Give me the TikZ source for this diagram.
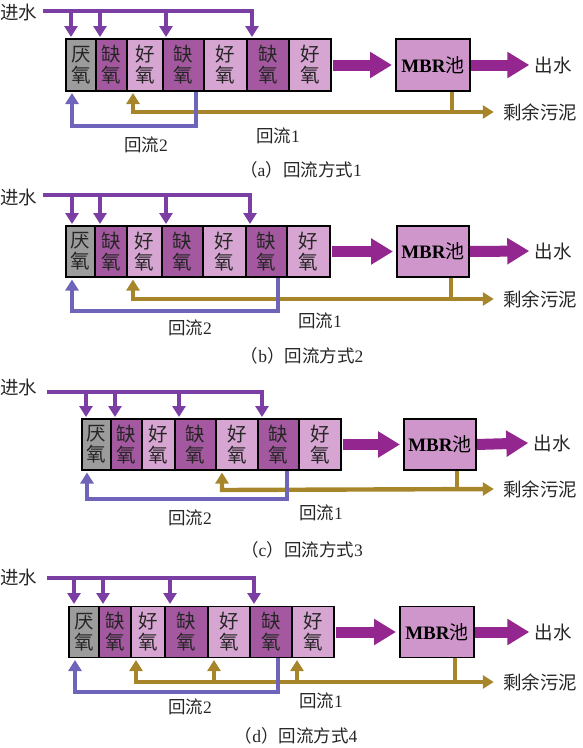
\documentclass[tikz,border=0pt]{standalone}
\usepackage{fontspec}
\setmainfont{Liberation Serif}
\newfontfamily\cjk{Noto Sans CJK SC}
\usetikzlibrary{arrows.meta}
\definecolor{feedc}{HTML}{7B3FA3}
\definecolor{bluec}{HTML}{6E64B9}
\definecolor{goldc}{HTML}{A7852A}
\definecolor{bigc}{HTML}{93278F}
\definecolor{quec}{HTML}{A4589F}
\definecolor{haoc}{HTML}{D6A5D2}
\definecolor{mbrc}{HTML}{CE96CA}
\definecolor{yanc}{HTML}{9C9C9C}
\pgfdeclarelayer{back}
\pgfsetlayers{back,main}
\tikzset{
  box/.style={draw=black, line width=1.8pt, inner sep=0pt, outer sep=0pt, align=center,
    text=black!85, font=\cjk\fontsize{19.5}{21}\selectfont},
  yan/.style={box, fill=yanc},
  que/.style={box, fill=quec},
  hao/.style={box, fill=haoc},
  mbr/.style={draw=black, line width=1.8pt, fill=mbrc, inner sep=0pt, outer sep=0pt,
    font=\fontsize{19}{21}\selectfont},
  lab/.style={inner sep=0pt, text=black!85, font=\cjk\fontsize{18.5}{20}\selectfont},
  rl/.style={inner sep=0pt, text=black!85, font=\fontsize{17.5}{19}\selectfont},
  feed/.style={draw=feedc, line width=4.4pt, line join=miter},
  ftip/.style={feed, -{Triangle[width=13pt,length=11pt]}},
  gold/.style={draw=goldc, line width=4.4pt, line join=miter},
  gtip/.style={gold, -{Triangle[width=13pt,length=11pt]}},
  gtips/.style={gold, {Triangle[width=13pt,length=11pt]}-{Triangle[width=13pt,length=11pt]}},
  blue/.style={draw=bluec, line width=4.4pt, line join=miter},
  btip/.style={blue, -{Triangle[width=13pt,length=11pt]}},
  big/.style={draw=bigc, line width=11pt, -{Triangle[width=25pt,length=22pt]}}
}
\begin{document}
\begin{tikzpicture}[x=1pt,y=-1pt]
\useasboundingbox (0,0) rectangle (582,748);

% ================= panel (a) =================
\node[yan, minimum width=30pt, minimum height=52pt] (a1) at (81,65) {厌\\氧};
\node[que, minimum width=31pt, minimum height=52pt] (a2) at (111.5,65) {缺\\氧};
\node[hao, minimum width=36pt, minimum height=52pt] (a3) at (145,65) {好\\氧};
\node[que, minimum width=41pt, minimum height=52pt] (a4) at (183.5,65) {缺\\氧};
\node[hao, minimum width=43pt, minimum height=52pt] (a5) at (225.5,65) {好\\氧};
\node[que, minimum width=42pt, minimum height=52pt] (a6) at (268,65) {缺\\氧};
\node[hao, minimum width=42pt, minimum height=52pt] (a7) at (310,65) {好\\氧};
\node[mbr, minimum width=74pt, minimum height=52pt] (am) at (433,65) {\textbf{MBR}{\cjk 池}};
\node[lab, anchor=west] (aIn) at (0,12) {进水};
\node[lab] (aOut) at (553,65) {出水};
\node[lab] (aSl) at (540,112) {剩余污泥};
\node[rl] (aR2) at (146,145) {{\cjk 回流}2};
\node[rl] (aR1) at (278,136) {{\cjk 回流}1};
\node[rl] (aCap) at (301,170) {{\cjk （}a{\cjk ）回流方式}1};
\begin{pgfonlayer}{back}
\draw[ftip] (43,11) -- (252,11) -- (252,37);
\foreach \x in {71,100,166} \draw[ftip] (\x,11) -- (\x,37);
\draw[big] ([xshift=2pt]a7.east) -- ([xshift=-4pt]am.west);
\draw[big] (am.east) -- ([xshift=-5pt]aOut.west);
\draw[gold] ([xshift=19pt]am.south) -- (452,112);
\draw[gtips] (133,93) -- (133,112) -- ([xshift=-9pt]aSl.west);
\draw[btip] (196,91) -- (196,126) -- (72,126) -- (72,93);
\end{pgfonlayer}

% ================= panel (b) =================
\node[yan, minimum width=29pt, minimum height=51pt] (b1) at (80.5,251.5) {厌\\氧};
\node[que, minimum width=32pt, minimum height=51pt] (b2) at (111,251.5) {缺\\氧};
\node[hao, minimum width=35pt, minimum height=51pt] (b3) at (144.5,251.5) {好\\氧};
\node[que, minimum width=41pt, minimum height=51pt] (b4) at (182.5,251.5) {缺\\氧};
\node[hao, minimum width=43pt, minimum height=51pt] (b5) at (224.5,251.5) {好\\氧};
\node[que, minimum width=41pt, minimum height=51pt] (b6) at (266.5,251.5) {缺\\氧};
\node[hao, minimum width=43pt, minimum height=51pt] (b7) at (308.5,251.5) {好\\氧};
\node[mbr, minimum width=72pt, minimum height=51pt] (bm) at (433,251.5) {\textbf{MBR}{\cjk 池}};
\node[lab, anchor=west] (bIn) at (0,197) {进水};
\node[lab] (bOut) at (553,251) {出水};
\node[lab] (bSl) at (540,299) {剩余污泥};
\node[rl] (bR2) at (190,328) {{\cjk 回流}2};
\node[rl] (bR1) at (320,321) {{\cjk 回流}1};
\node[rl] (bCap) at (302,356) {{\cjk （}b{\cjk ）回流方式}2};
\begin{pgfonlayer}{back}
\draw[ftip] (43,195) -- (250,195) -- (250,224);
\foreach \x in {72,100,166} \draw[ftip] (\x,195) -- (\x,224);
\draw[big] ([xshift=2pt]b7.east) -- ([xshift=-4pt]bm.west);
\draw[big] (bm.east) -- ([xshift=-5pt]bOut.west);
\draw[gold] ([xshift=18pt]bm.south) -- (451,299);
\draw[gtips] (133,279.5) -- (133,299) -- ([xshift=-9pt]bSl.west);
\draw[btip] (278,277) -- (278,311) -- (72,311) -- (72,279.5);
\end{pgfonlayer}

% ================= panel (c) =================
\node[yan, minimum width=29pt, minimum height=51pt] (c1) at (96.5,444.5) {厌\\氧};
\node[que, minimum width=31pt, minimum height=51pt] (c2) at (126.5,444.5) {缺\\氧};
\node[hao, minimum width=33pt, minimum height=51pt] (c3) at (158.5,444.5) {好\\氧};
\node[que, minimum width=41pt, minimum height=51pt] (c4) at (195.5,444.5) {缺\\氧};
\node[hao, minimum width=42pt, minimum height=51pt] (c5) at (237,444.5) {好\\氧};
\node[que, minimum width=41pt, minimum height=51pt] (c6) at (278.5,444.5) {缺\\氧};
\node[hao, minimum width=42pt, minimum height=51pt] (c7) at (320,444.5) {好\\氧};
\node[mbr, minimum width=72pt, minimum height=51pt] (cm) at (440,444.5) {\textbf{MBR}{\cjk 池}};
\node[lab, anchor=west] (cIn) at (0,387) {进水};
\node[lab] (cOut) at (552,443) {出水};
\node[lab] (cSl) at (540,489) {剩余污泥};
\node[rl] (cR2) at (190,518) {{\cjk 回流}2};
\node[rl] (cR1) at (321,513) {{\cjk 回流}1};
\node[rl] (cCap) at (302,550) {{\cjk （}c{\cjk ）回流方式}3};
\begin{pgfonlayer}{back}
\draw[ftip] (47,392) -- (262,392) -- (262,417);
\foreach \x in {86,115,179} \draw[ftip] (\x,392) -- (\x,417);
\draw[big] ([xshift=2pt]c7.east) -- ([xshift=-4pt]cm.west);
\draw[big] (cm.east) -- ([xshift=-5pt]cOut.west);
\draw[gold] ([xshift=17pt]cm.south) -- (457,490);
\draw[gtips] (222,472.5) -- (222,490) -- ([xshift=-9pt]cSl.west);
\draw[btip] (287,470) -- (287,499) -- (87,499) -- (87,472.5);
\end{pgfonlayer}

% ================= panel (d) =================
\node[yan, minimum width=30pt, minimum height=51pt] (d1) at (84,632) {厌\\氧};
\node[que, minimum width=32pt, minimum height=51pt] (d2) at (115,632) {缺\\氧};
\node[hao, minimum width=34pt, minimum height=51pt] (d3) at (148,632) {好\\氧};
\node[que, minimum width=43pt, minimum height=51pt] (d4) at (186.5,632) {缺\\氧};
\node[hao, minimum width=42pt, minimum height=51pt] (d5) at (229,632) {好\\氧};
\node[que, minimum width=42pt, minimum height=51pt] (d6) at (271,632) {缺\\氧};
\node[hao, minimum width=42pt, minimum height=51pt] (d7) at (313,632) {好\\氧};
\node[mbr, minimum width=74pt, minimum height=51pt] (dm) at (437,632) {\textbf{MBR}{\cjk 池}};
\node[lab, anchor=west] (dIn) at (0,577) {进水};
\node[lab] (dOut) at (553,632) {出水};
\node[lab] (dSl) at (540,682) {剩余污泥};
\node[rl] (dR2) at (190,707) {{\cjk 回流}2};
\node[rl] (dR1) at (321,701) {{\cjk 回流}1};
\node[rl] (dCap) at (296,736) {{\cjk （}d{\cjk ）回流方式}4};
\begin{pgfonlayer}{back}
\draw[ftip] (47,578) -- (254,578) -- (254,604);
\foreach \x in {74,103,170} \draw[ftip] (\x,578) -- (\x,604);
\draw[big] ([xshift=2pt]d7.east) -- ([xshift=-4pt]dm.west);
\draw[big] (dm.east) -- ([xshift=-5pt]dOut.west);
\draw[gold] ([xshift=18pt]dm.south) -- (455,682);
\draw[gtips] (136,660) -- (136,682) -- ([xshift=-9pt]dSl.west);
\foreach \x in {214,297} \draw[gtip] (\x,682) -- (\x,660);
\draw[btip] (278,657.5) -- (278,692) -- (75,692) -- (75,660);
\end{pgfonlayer}
\end{tikzpicture}
\end{document}
